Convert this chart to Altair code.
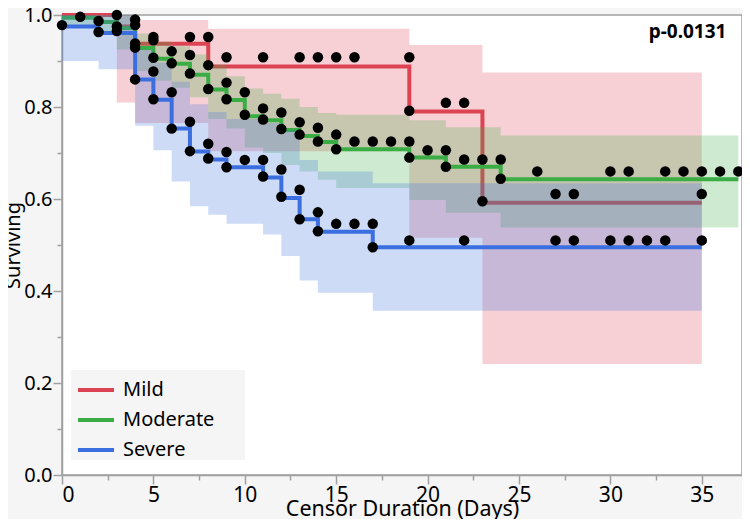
import altair as alt
import pandas as pd

# ---------------- data ----------------
groups = ["Mild", "Moderate", "Severe"]
colors = ["#dc4454", "#3aad45", "#3b6fe0"]

# Mild
mild_t = [0, 3, 4, 8, 19, 23, 35]
mild_s = [1.0, 0.975, 0.9375, 0.888, 0.790, 0.592, 0.592]
mild_lo = [1.0, 0.810, 0.765, 0.704, 0.516, 0.2415, 0.2415]
mild_hi = [1.0, 1.0, 0.989, 0.970, 0.935, 0.875, 0.875]

# Moderate
mod_t = [0, 2, 3, 4, 5, 6, 7, 8, 9, 10, 11, 12, 13, 14, 15, 19, 21, 24, 37]
mod_s = [0.994, 0.985, 0.972, 0.928, 0.905, 0.894, 0.870, 0.838, 0.815, 0.780,
         0.771, 0.750, 0.737, 0.724, 0.708, 0.690, 0.670, 0.643, 0.643]
mod_lo = [0.975, 0.965, 0.925, 0.878, 0.857, 0.842, 0.821, 0.774, 0.753, 0.712,
          0.700, 0.674, 0.660, 0.642, 0.624, 0.598, 0.570, 0.538, 0.538]
mod_hi = [1.0, 1.0, 1.0, 0.960, 0.942, 0.932, 0.914, 0.892, 0.867, 0.840,
          0.829, 0.818, 0.800, 0.787, 0.783, 0.771, 0.756, 0.738, 0.738]

# Severe
sev_t = [0, 2, 4, 5, 6, 7, 8, 9, 11, 12, 13, 14, 17, 35]
sev_s = [0.975, 0.961, 0.860, 0.816, 0.753, 0.703, 0.686, 0.669, 0.647, 0.602,
         0.556, 0.529, 0.495, 0.495]
sev_lo = [0.900, 0.882, 0.759, 0.706, 0.638, 0.584, 0.566, 0.546, 0.523, 0.476,
          0.423, 0.396, 0.357, 0.357]
sev_hi = [1.0, 1.0, 0.925, 0.897, 0.855, 0.806, 0.789, 0.774, 0.765, 0.749,
          0.685, 0.660, 0.634, 0.634]

# censored observations (dots)
censor_t = [0, 1, 2, 2, 3, 3, 3,
            4, 4, 4, 4, 4,
            5, 5, 5, 5, 5,
            6, 6, 6, 6,
            7, 7, 7, 7, 7,
            8, 8, 8, 8, 8,
            9, 9, 9, 9, 9,
            10, 10, 10,
            11, 11, 11, 11, 11,
            12, 12, 12, 12,
            13, 13, 13, 13, 13,
            14, 14, 14, 14, 14,
            15, 15, 15, 15,
            16, 16, 16,
            17, 17, 17,
            18,
            19, 19, 19, 19, 19,
            20,
            21, 21, 21,
            22, 22, 22,
            23, 23,
            24, 24,
            26,
            27, 27,
            28, 28,
            30, 30,
            31, 31,
            32,
            33, 33,
            34,
            35, 35, 35,
            36,
            37]
censor_s = [0.978, 0.996, 0.987, 0.963, 1.0, 0.975, 0.965,
            0.990, 0.978, 0.938, 0.929, 0.860,
            0.952, 0.945, 0.907, 0.877, 0.817,
            0.921, 0.895, 0.832, 0.753,
            0.952, 0.913, 0.873, 0.768, 0.704,
            0.952, 0.891, 0.839, 0.720, 0.688,
            0.908, 0.853, 0.817, 0.702, 0.669,
            0.832, 0.783, 0.685,
            0.908, 0.797, 0.773, 0.685, 0.649,
            0.788, 0.752, 0.664, 0.605,
            0.908, 0.767, 0.740, 0.620, 0.556,
            0.908, 0.755, 0.725, 0.571, 0.530,
            0.908, 0.740, 0.708, 0.546,
            0.908, 0.725, 0.546,
            0.725, 0.546, 0.495,
            0.725,
            0.908, 0.792, 0.725, 0.690, 0.510,
            0.706,
            0.809, 0.706, 0.670,
            0.809, 0.686, 0.510,
            0.595, 0.686,
            0.686, 0.644,
            0.660,
            0.611, 0.510,
            0.611, 0.510,
            0.660, 0.510,
            0.660, 0.510,
            0.510,
            0.660, 0.510,
            0.660,
            0.660, 0.611, 0.510,
            0.660,
            0.660]

p_label = ["p-0.0131"]
p_t = [36.35]
p_s = [0.963]

# ---------------- tables ----------------
curves = pd.concat([
    pd.DataFrame({"group": "Mild", "t": mild_t, "s": mild_s, "lo": mild_lo, "hi": mild_hi}),
    pd.DataFrame({"group": "Moderate", "t": mod_t, "s": mod_s, "lo": mod_lo, "hi": mod_hi}),
    pd.DataFrame({"group": "Severe", "t": sev_t, "s": sev_s, "lo": sev_lo, "hi": sev_hi}),
], ignore_index=True)
dots = pd.DataFrame({"t": censor_t, "s": censor_s})
ptext = pd.DataFrame({"label": p_label, "t": p_t, "s": p_s})

FONT = "Noto Sans"

x_scale = alt.Scale(domain=[0, 37.2], nice=False, zero=False)
y_scale = alt.Scale(domain=[0, 1.0], nice=False, zero=False)

x_axis = alt.Axis(
    values=[i * 2.5 for i in range(15)],
    labelExpr="datum.value % 5 == 0 ? format(datum.value, 'd') : ''",
    tickSize={"condition": {"test": "datum.value % 5 == 0", "value": 9}, "value": 5},
    grid=False, labelPadding=0, titlePadding=-7, labelFontSize=21,
    titleFontSize=21.5,
)
y_axis = alt.Axis(
    values=[round(i / 10, 1) for i in range(11)],
    labelExpr="round(datum.value * 10) % 2 == 0 ? format(datum.value, '.1f') : ''",
    tickSize={"condition": {"test": "round(datum.value * 10) % 2 == 0", "value": 9}, "value": 5},
    grid=False, labelPadding=1, titlePadding=0, labelFontSize=20,
    titleFontSize=20,
)

X = lambda f: alt.X(f, type="quantitative", scale=x_scale, axis=x_axis, title="Censor Duration (Days)")
Y = lambda f: alt.Y(f, type="quantitative", scale=y_scale, axis=y_axis, title="Surviving")

stroke_scale = alt.Scale(domain=groups, range=colors)
pad = "\u2800" * 2
legend = alt.Legend(
    title=None, orient="none", legendX=9, legendY=355,
    symbolType="stroke", symbolStrokeWidth=4, symbolSize=1296, symbolOffset=5,
    labelFontSize=20, labelFont=FONT, labelOffset=7, rowPadding=-12,
    fillColor="#f5f5f5", padding=0, labelColor="#000000",
    labelExpr="datum.label + '" + pad + "'",
)

base = alt.Chart(curves)
layers = []
for g, c in zip(groups, colors):
    sub = base.transform_filter(alt.datum.group == g)
    band = sub.mark_area(interpolate="step-after", color=c, opacity=0.25).encode(
        x=X("t"), y=Y("lo"), y2="hi:Q",
    )
    line = sub.mark_line(interpolate="step-after", strokeWidth=4).encode(
        x=X("t"), y=Y("s"),
        stroke=alt.Stroke("group:N", scale=stroke_scale, legend=legend),
    )
    layers += [band, line]

dot_layer = alt.Chart(dots).mark_circle(size=110, color="black", opacity=1).encode(
    x=X("t"), y=Y("s"))
p_layer = alt.Chart(ptext).mark_text(
    align="right", baseline="middle", fontSize=19, fontWeight="bold", font=FONT, color="black"
).encode(x=X("t"), y=Y("s"), text="label:N")

chart = alt.layer(*layers, dot_layer, p_layer).properties(
    width=680, height=460,
    padding={"left": 54, "top": 7, "right": 0, "bottom": 44},
    autosize=alt.AutoSizeParams(type="none"),
    background="#f5f5f5",
).configure_view(
    fill="white", stroke="#a0a0a0", strokeWidth=1.5
).configure_axis(
    domainColor="#a0a0a0", domainWidth=1.5, tickColor="#a0a0a0", tickWidth=1.5,
    labelFont=FONT, labelColor="#000000",
    titleFont=FONT, titleColor="#000000", titleFontWeight="normal",
)

chart.save("out.html", embed_options={"renderer": "svg", "actions": False})
